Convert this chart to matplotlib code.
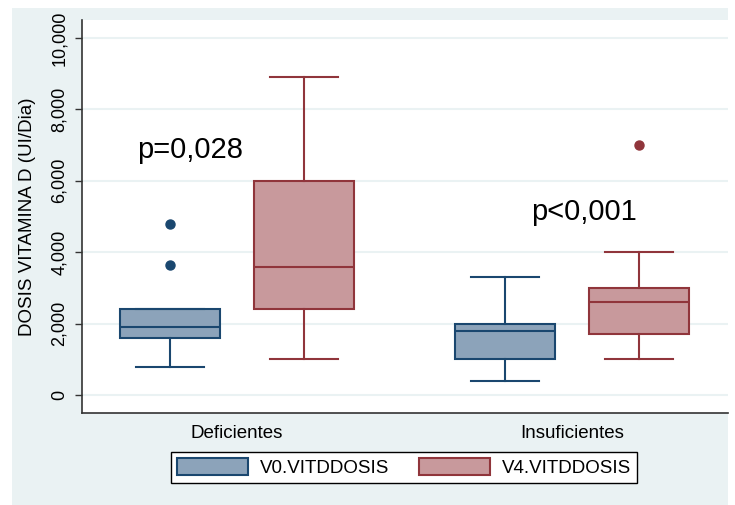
import matplotlib
matplotlib.use("Agg")
import matplotlib.pyplot as plt
from matplotlib.patches import Patch, Rectangle
from matplotlib.ticker import FuncFormatter

plt.rcParams['font.family'] = ['Liberation Sans', 'DejaVu Sans']

### data ###
groups = ["Deficientes", "Insuficientes"]
series = ["V0.VITDDOSIS", "V4.VITDDOSIS"]
# box summaries per group: (whislo, q1, med, q3, whishi, outliers)
v0_stats = [(800, 1600, 1900, 2400, 2400, [3650, 4800]),
            (400, 1000, 1800, 2000, 3300, [])]
v4_stats = [(1000, 2400, 3600, 6000, 8900, []),
            (1000, 1700, 2600, 3000, 4000, [7000])]
p_labels = ["p=0,028", "p<0,001"]
p_ypos = [6860, 5135]
yticks = [0, 2000, 4000, 6000, 8000, 10000]

### style ###
NAVY = "#1a476f"
MAROON = "#90353b"
NAVY_FILL = "#8ca3ba"
MAROON_FILL = "#c8999c"
BG = "#eaf2f3"

W, H = 735, 505
fig = plt.figure(figsize=(W / 100, H / 100), dpi=100)
fig.patch.set_facecolor("white")
# graph region, behind the axes
fig.add_artist(Rectangle((12 / W, 0), (728 - 12) / W, 1 - 8 / H,
                         transform=fig.transFigure, facecolor=BG,
                         edgecolor="none", zorder=-5))

ax = fig.add_axes([82 / W, 1 - 413 / H, (728 - 82) / W, (413 - 20) / H])
ax.set_facecolor("white")


def to_bxp(s):
    lo, q1, med, q3, hi, out = s
    return dict(whislo=lo, q1=q1, med=med, q3=q3, whishi=hi, fliers=out)


offset = 0.2
width = 0.3
for stats, sign, edge, fill in [(v0_stats, -1, NAVY, NAVY_FILL),
                                (v4_stats, 1, MAROON, MAROON_FILL)]:
    pos = [i + sign * offset for i in range(len(groups))]
    ax.bxp([to_bxp(s) for s in stats], positions=pos, widths=width,
           capwidths=0.205, patch_artist=True, showcaps=True,
           boxprops=dict(facecolor=fill, edgecolor=edge, linewidth=1.5),
           medianprops=dict(color=edge, linewidth=1.5),
           whiskerprops=dict(color=edge, linewidth=1.5),
           capprops=dict(color=edge, linewidth=1.5),
           flierprops=dict(marker="o", markerfacecolor=edge,
                           markeredgecolor=edge, markersize=6.5),
           manage_ticks=False, zorder=3)

for i, (txt, yv) in enumerate(zip(p_labels, p_ypos)):
    xoff = -0.14 if i == 0 else 0.036
    ax.text(i + xoff, yv, txt, ha="center", va="center", fontsize=21,
            color="black", zorder=4)

ax.set_xlim(-0.463, 1.466)
ax.set_ylim(-500, 10500)
ax.set_yticks(yticks)
ax.yaxis.set_major_formatter(FuncFormatter(lambda v, p: f"{int(v):,}"))
ax.grid(axis="y", color=BG, linewidth=1.5, zorder=0)
ax.set_axisbelow(True)
ax.tick_params(axis="y", length=5, width=1, color="#333333", pad=5,
               labelsize=13, labelrotation=90)
for lab in ax.get_yticklabels():
    lab.set_va("center")
ax.set_xticks(range(len(groups)))
ax.set_xticklabels(groups, fontsize=13.5)
ax.tick_params(axis="x", length=0, pad=8.5)
ax.set_ylabel("DOSIS VITAMINA D (UI/Dia)", fontsize=13.5, labelpad=11)

for side in ["top", "right"]:
    ax.spines[side].set_visible(False)
for side in ["left", "bottom"]:
    ax.spines[side].set_color("#333333")
    ax.spines[side].set_linewidth(1.2)

handles = [Patch(facecolor=NAVY_FILL, edgecolor=NAVY, linewidth=1.5),
           Patch(facecolor=MAROON_FILL, edgecolor=MAROON, linewidth=1.5)]
leg = fig.legend(handles, series, loc="center", ncol=2,
                 bbox_to_anchor=(404 / W, 1 - 467.5 / H),
                 fontsize=13.5, handlelength=3.8, handleheight=1.0,
                 handletextpad=0.6, columnspacing=1.6, borderpad=0.35,
                 fancybox=False, framealpha=1, edgecolor="black")
leg.get_frame().set_linewidth(1.0)

fig.savefig("out.png", dpi=100)
